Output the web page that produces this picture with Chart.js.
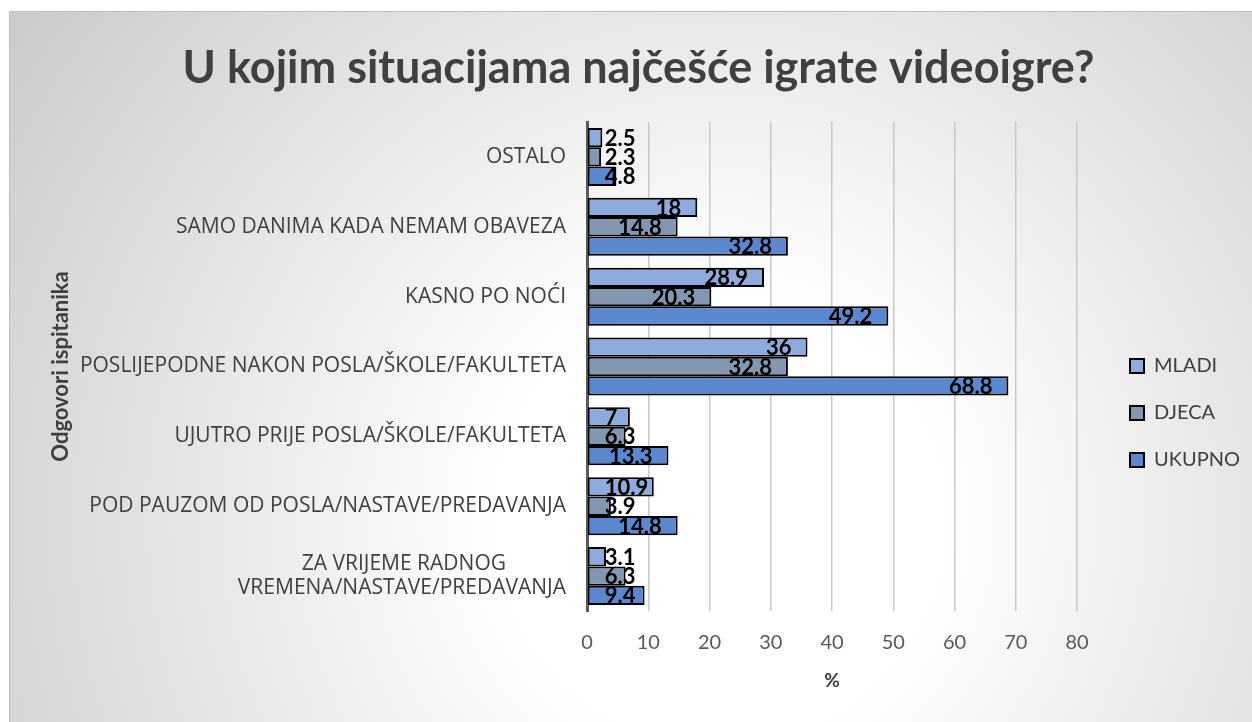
<!DOCTYPE html>
<html>
<head>
<meta charset="utf-8">
<script src="https://cdn.jsdelivr.net/npm/chart.js@4"></script>
<style>
  html, body { margin: 0; padding: 0; background: #ffffff; }
  #wrap { width: 1252px; height: 722px; }
</style>
</head>
<body>
<div id="wrap"><canvas id="chartCanvas" width="1252" height="722"></canvas></div>
<script>
// ---- data ----
const TITLE = 'U kojim situacijama najčešće igrate videoigre?';
const Y_TITLE = 'Odgovori ispitanika';
const X_TITLE = '%';
const CATEGORIES = [
  'OSTALO',
  'SAMO DANIMA KADA NEMAM OBAVEZA',
  'KASNO PO NOĆI',
  'POSLIJEPODNE NAKON POSLA/ŠKOLE/FAKULTETA',
  'UJUTRO PRIJE POSLA/ŠKOLE/FAKULTETA',
  'POD PAUZOM OD POSLA/NASTAVE/PREDAVANJA',
  ['ZA VRIJEME RADNOG', 'VREMENA/NASTAVE/PREDAVANJA']
];
const SERIES_NAMES = ['MLADI', 'DJECA', 'UKUPNO'];
const MLADI  = [2.5, 18, 28.9, 36, 7, 10.9, 3.1];
const DJECA  = [2.3, 14.8, 20.3, 32.8, 6.3, 3.9, 6.3];
const UKUPNO = [4.8, 32.8, 49.2, 68.8, 13.3, 14.8, 9.4];
const X_MIN = 0, X_MAX = 80, X_STEP = 10;

// ---- look ----
const COLORS = ['#8FAADC', '#8497B0', '#5B87CE'];
const FONT = 'Lato';
const CAT_FONT = '"Open Sans"';
const TEXT_DARK = '#404040';
const TEXT_TICK = '#595959';

const FRAME_X = 9, FRAME_Y = 11;
const PAD_LEFT = 40, PAD_RIGHT = 15;
const PLOT_LEFT = 587, PLOT_RIGHT = 1077, PLOT_BOTTOM = 611;
const LEGEND_BOX_X = 1130, LEGEND_FIRST_Y = 356;

// center multi-line category labels like Excel does
const measureCtx = document.createElement('canvas').getContext('2d');
function centerLines(lines, font) {
  measureCtx.font = font;
  const widths = lines.map(l => measureCtx.measureText(l).width);
  const widest = Math.max(...widths);
  const space = measureCtx.measureText(' ').width;
  return lines.map((l, i) => l + ' '.repeat(Math.round((widest - widths[i]) / 2 / space)));
}

const backgroundPlugin = {
  id: 'background',
  beforeDraw(chart) {
    const ctx = chart.ctx;
    ctx.save();
    ctx.fillStyle = '#ffffff';
    ctx.fillRect(0, 0, chart.width, chart.height);
    const g = ctx.createRadialGradient(720, 520, 0, 720, 520, 1000);
    g.addColorStop(0, '#ffffff');
    g.addColorStop(0.22, '#ffffff');
    g.addColorStop(1, '#c0c0c0');
    ctx.fillStyle = g;
    ctx.fillRect(FRAME_X, FRAME_Y, chart.width - FRAME_X, chart.height - FRAME_Y);
    ctx.strokeStyle = '#bdbdbd';
    ctx.lineWidth = 1;
    ctx.strokeRect(FRAME_X + 0.5, FRAME_Y + 0.5, chart.width + 10, chart.height + 10);
    ctx.restore();
  }
};

const valueLabelPlugin = {
  id: 'valueLabels',
  afterDatasetsDraw(chart) {
    const ctx = chart.ctx;
    ctx.save();
    ctx.font = 'bold 22px ' + FONT;
    ctx.fillStyle = '#000000';
    ctx.textAlign = 'right';
    ctx.textBaseline = 'middle';
    chart.data.datasets.forEach((ds, i) => {
      chart.getDatasetMeta(i).data.forEach((bar, j) => {
        const text = String(ds.data[j]);
        const w = ctx.measureText(text).width;
        const right = Math.max(bar.x - 16, bar.base + 17 + w);
        ctx.fillText(text, right, bar.y + 1);
      });
    });
    ctx.restore();
  }
};

// legend sits away from the plot, like the Excel original
const legendPlacePlugin = {
  id: 'legendPlace',
  afterInit(chart) {
    const legend = chart.legend;
    const fit = legend.fit;
    legend.fit = function () {
      fit.call(this);
      this.width = chart.width - PAD_RIGHT - PLOT_RIGHT;
    };
  },
  afterLayout(chart) {
    const legend = chart.legend;
    const pad = legend.options.labels.padding;
    const colHeight = legend.columnSizes && legend.columnSizes[0] ? legend.columnSizes[0].height : 0;
    legend.left = LEGEND_BOX_X - pad;
    legend.right = chart.width;
    legend.top = LEGEND_FIRST_Y - pad;
    legend.bottom = LEGEND_FIRST_Y + colHeight;
  }
};

const datasets = [MLADI, DJECA, UKUPNO].map((values, i) => ({
  label: SERIES_NAMES[i],
  data: values,
  backgroundColor: COLORS[i],
  borderColor: '#000000',
  borderWidth: 2,
  borderSkipped: false,
  barPercentage: 1.0,
  categoryPercentage: 0.83
}));

const tickFont = { family: CAT_FONT, size: 21, lineHeight: 1.15 };

new Chart(document.getElementById('chartCanvas'), {
  type: 'bar',
  data: { labels: CATEGORIES, datasets: datasets },
  options: {
    indexAxis: 'y',
    responsive: false,
    animation: false,
    devicePixelRatio: 1,
    layout: { padding: { left: PAD_LEFT, right: PAD_RIGHT, top: FRAME_Y, bottom: 0 } },
    scales: {
      x: {
        min: X_MIN,
        max: X_MAX,
        ticks: {
          stepSize: X_STEP,
          color: TEXT_TICK,
          font: { family: FONT, size: 20 },
          padding: 20
        },
        grid: { color: '#c8c8c8', lineWidth: 1.5, drawTicks: false },
        border: { display: false },
        title: {
          display: true,
          text: X_TITLE,
          color: TEXT_DARK,
          font: { family: FONT, size: 19, weight: 'bold' },
          padding: { bottom: 30 }
        },
        afterFit(scale) { scale.height = 722 - PLOT_BOTTOM; }
      },
      y: {
        ticks: {
          color: TEXT_DARK,
          font: tickFont,
          padding: 21,
          autoSkip: false,
          callback(value) {
            const lab = this.getLabelForValue(value);
            return Array.isArray(lab) ? centerLines(lab, tickFont.size + 'px ' + CAT_FONT) : lab;
          }
        },
        grid: { display: false, drawTicks: false },
        border: { display: true, color: '#595959', width: 3 },
        title: {
          display: true,
          text: Y_TITLE,
          color: TEXT_DARK,
          font: { family: FONT, size: 22, weight: 'bold' },
          padding: { top: 8 }
        },
        afterFit(scale) { scale.width = PLOT_LEFT - PAD_LEFT; }
      }
    },
    plugins: {
      title: {
        display: true,
        text: TITLE,
        color: TEXT_DARK,
        font: { family: FONT, size: 45, weight: 'bold' },
        padding: { top: 30, bottom: 27 }
      },
      legend: {
        position: 'right',
        labels: {
          boxWidth: 14,
          boxHeight: 14,
          padding: 27,
          color: TEXT_DARK,
          font: { family: FONT, size: 20 }
        }
      },
      tooltip: { enabled: false }
    }
  },
  plugins: [backgroundPlugin, valueLabelPlugin, legendPlacePlugin]
});
</script>
</body>
</html>
